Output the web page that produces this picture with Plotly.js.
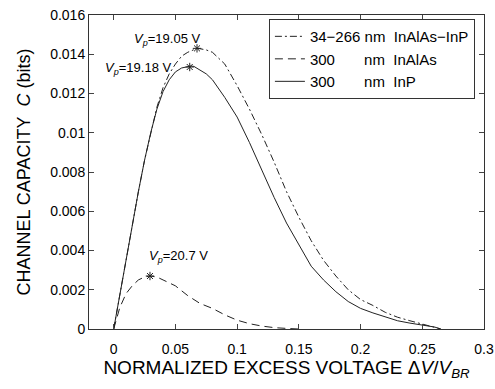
<!DOCTYPE html>
<html>
<head>
<meta charset="utf-8">
<script src="https://cdn.plot.ly/plotly-3.0.1.min.js"></script>
<style>html,body{margin:0;padding:0;background:#fff;}#chart{width:495px;height:389px;}</style>
</head>
<body>
<div id="chart"></div>
<script>
// Series: InAlAs-InP (34-266 nm), dash-dot
const xHetero = [0, 0.005, 0.01, 0.015, 0.02, 0.025, 0.03, 0.035, 0.04, 0.045, 0.05, 0.055, 0.06, 0.065, 0.0675, 0.07, 0.075, 0.08, 0.085, 0.09, 0.1, 0.11, 0.12, 0.13, 0.14, 0.15, 0.16, 0.17, 0.18, 0.19, 0.2, 0.21, 0.22, 0.23, 0.24, 0.25, 0.26, 0.265];
const yHetero = [0, 0.0018, 0.0036, 0.0053, 0.0070, 0.0086, 0.0100, 0.0113, 0.0123, 0.0130, 0.0135, 0.0139, 0.0141, 0.01425, 0.0143, 0.01428, 0.01422, 0.0141, 0.0138, 0.0135, 0.0124, 0.0112, 0.0099, 0.0085, 0.0070, 0.0057, 0.0045, 0.0035, 0.0027, 0.0020, 0.0015, 0.0012, 0.00085, 0.0006, 0.00042, 0.00025, 0.0001, 0];

// Series: InAlAs (300 nm), dashed
const xInAlAs = [0, 0.005, 0.01, 0.015, 0.02, 0.025, 0.0294, 0.035, 0.04, 0.05, 0.06, 0.07, 0.08, 0.09, 0.1, 0.11, 0.12, 0.13, 0.14, 0.15];
const yInAlAs = [0, 0.0011, 0.0018, 0.0022, 0.0025, 0.00265, 0.0027, 0.00265, 0.0025, 0.0022, 0.0017, 0.0013, 0.00105, 0.00072, 0.00045, 0.00027, 0.00015, 0.00007, 0.00003, 0];

// Series: InP (300 nm), solid
const xInP = [0, 0.005, 0.01, 0.015, 0.02, 0.025, 0.03, 0.035, 0.04, 0.045, 0.05, 0.055, 0.06, 0.0625, 0.065, 0.07, 0.075, 0.08, 0.09, 0.1, 0.11, 0.12, 0.13, 0.14, 0.15, 0.16, 0.17, 0.18, 0.19, 0.2, 0.21, 0.22, 0.23, 0.24, 0.25, 0.26, 0.265];
const yInP = [0, 0.0018, 0.0036, 0.0053, 0.0070, 0.0086, 0.0100, 0.0112, 0.0121, 0.0127, 0.0131, 0.0133, 0.01338, 0.0134, 0.01338, 0.0132, 0.0130, 0.0127, 0.0118, 0.0108, 0.0095, 0.0081, 0.0067, 0.0054, 0.0043, 0.0032, 0.0025, 0.0019, 0.0014, 0.00105, 0.00082, 0.0006, 0.00042, 0.0003, 0.0002, 0.0001, 0];

// Peak markers and labels
const peakX = [0.0675, 0.0616, 0.0294];
const peakY = [0.0143, 0.01335, 0.0027];
const peakLabels = ['<i>V</i><sub><i>p</i></sub>=19.05 V', '<i>V</i><sub><i>p</i></sub>=19.18 V', '<i>V</i><sub><i>p</i></sub>=20.7 V'];
const labelX = [0.0148, -0.0087, 0.027];
const labelY = [0.01475, 0.01325, 0.0037];

const legendNames = ['34\u2212266 nm\u00a0\u00a0InAlAs\u2212InP', '300\u00a0\u00a0\u00a0\u00a0\u00a0\u00a0\u00a0nm\u00a0\u00a0InAlAs', '300\u00a0\u00a0\u00a0\u00a0\u00a0\u00a0\u00a0nm\u00a0\u00a0InP'];

const ink = '#222';
const traces = [
  {x: xHetero, y: yHetero, mode: 'lines', name: legendNames[0], line: {color: ink, width: 1, dash: '7px,3px,2px,3px'}},
  {x: xInAlAs, y: yInAlAs, mode: 'lines', name: legendNames[1], line: {color: ink, width: 1, dash: '8px,5px'}},
  {x: xInP, y: yInP, mode: 'lines', name: legendNames[2], line: {color: ink, width: 1}},
  {x: peakX, y: peakY, mode: 'markers', showlegend: false, marker: {symbol: 'asterisk-open', size: 7, color: ink, line: {color: ink, width: 1}}}
];

const annotations = peakLabels.map((t, i) => ({
  x: labelX[i], y: labelY[i], xref: 'x', yref: 'y', text: t, showarrow: false,
  xanchor: 'left', yanchor: 'middle', font: {size: 13, color: '#000', family: 'Liberation Sans, Arial, sans-serif'}
}));

const layout = {
  width: 495, height: 389,
  margin: {l: 89, r: 11, t: 15, b: 60},
  paper_bgcolor: '#fff', plot_bgcolor: '#fff',
  font: {family: 'Liberation Sans, Arial, sans-serif', color: '#000', size: 14},
  showlegend: true,
  legend: {x: 0.977, y: 0.987, xanchor: 'right', yanchor: 'top', bordercolor: '#333', borderwidth: 1, bgcolor: '#fff', font: {size: 15}, tracegroupgap: 0},
  xaxis: {
    range: [-0.02, 0.3], dtick: 0.05, tick0: 0, ticks: 'inside', ticklen: 5, mirror: 'ticks',
    showline: true, linecolor: '#333', linewidth: 1, showgrid: false, zeroline: false,
    tickfont: {size: 14}, ticklabelstandoff: 7,
    title: {text: 'NORMALIZED EXCESS VOLTAGE \u0394<i>V</i>/<i>V</i><sub><i>BR</i></sub>', font: {size: 19}, standoff: 4}
  },
  yaxis: {
    range: [0, 0.016], dtick: 0.002, tick0: 0, ticks: 'inside', ticklen: 5, mirror: 'ticks',
    showline: true, linecolor: '#333', linewidth: 1, showgrid: false, zeroline: false,
    tickfont: {size: 14},
    title: {text: 'CHANNEL CAPACITY\u00a0\u00a0<i>C</i> (bits)', font: {size: 18}, standoff: 14}
  },
  annotations: annotations
};

Plotly.newPlot('chart', traces, layout, {displayModeBar: false, staticPlot: true});
</script>
</body>
</html>
